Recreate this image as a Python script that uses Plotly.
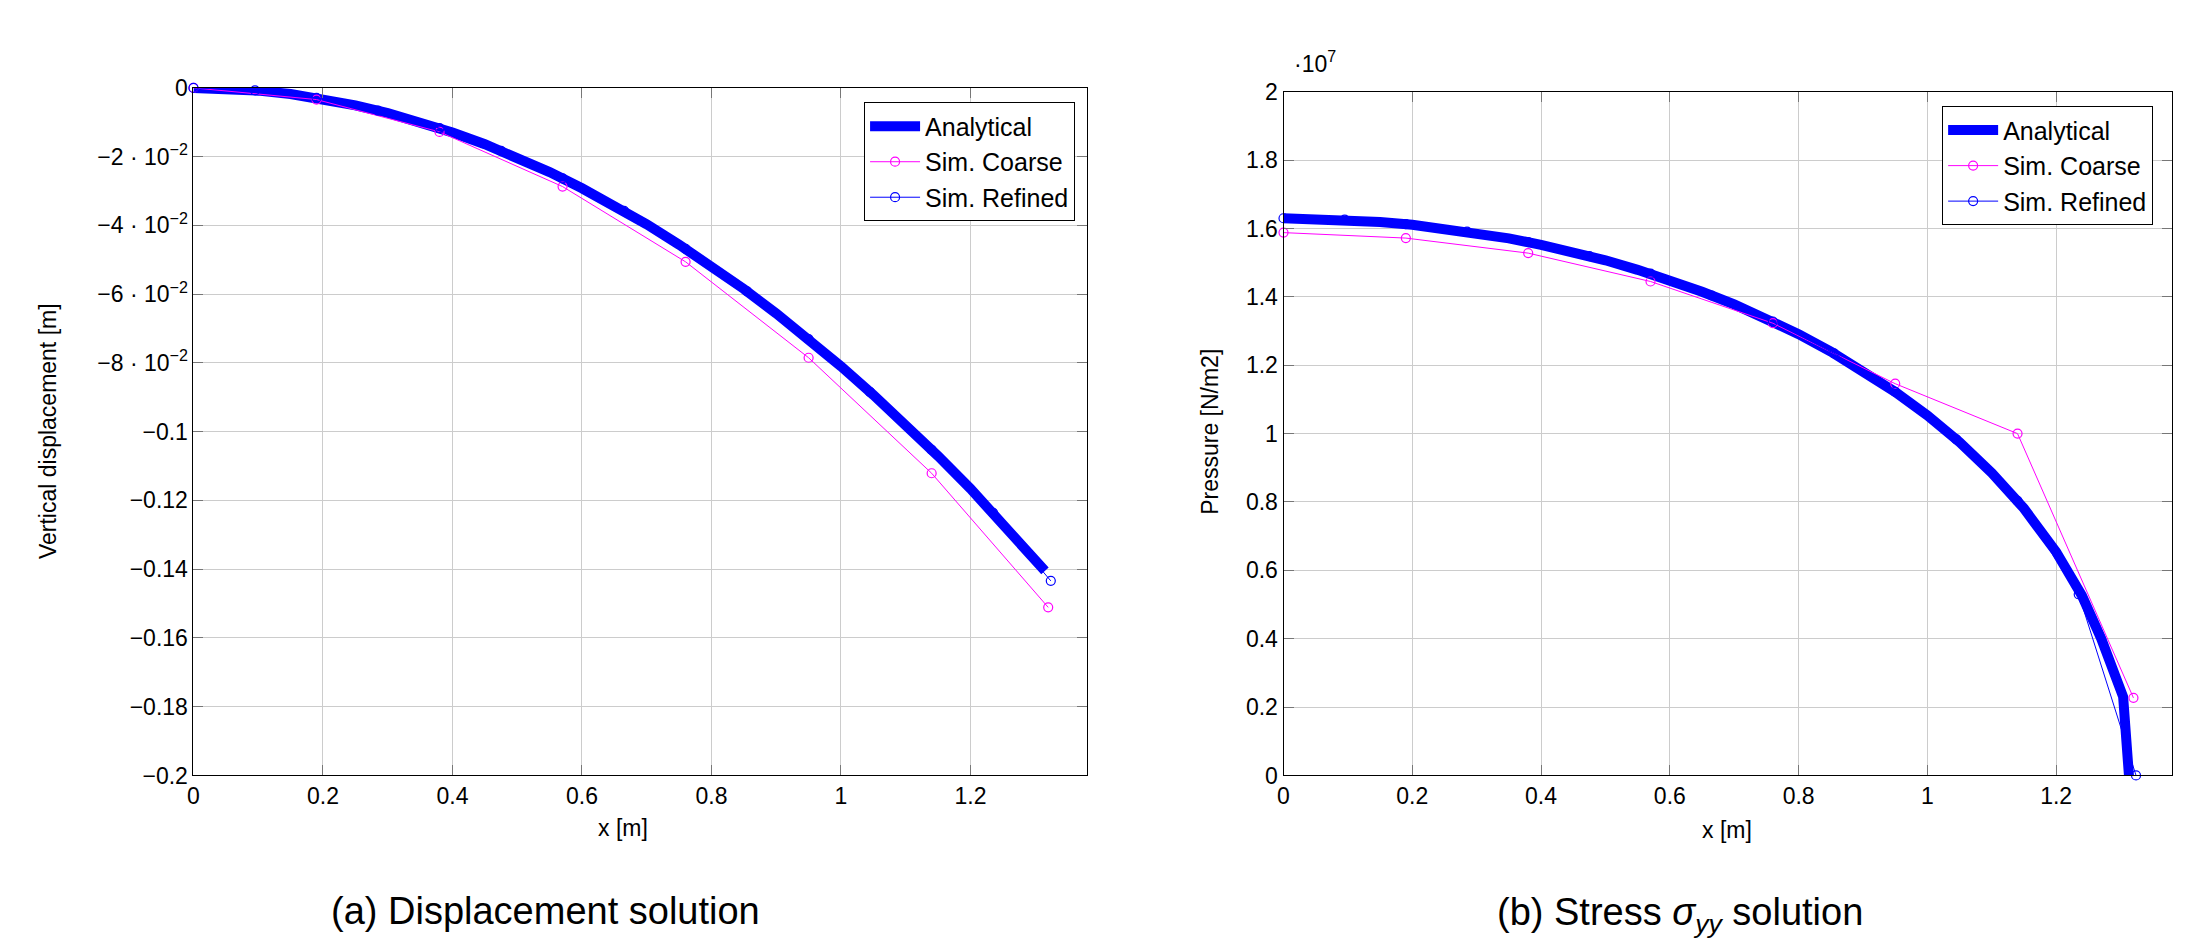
import plotly.graph_objects as go

# --- (a) vertical displacement [m] ---
x_an_disp = [0, 0.05, 0.1, 0.15, 0.2, 0.25, 0.3, 0.35, 0.4, 0.45, 0.5, 0.55, 0.6, 0.65,
             0.7, 0.75, 0.8, 0.85, 0.9, 0.95, 1.0, 1.05, 1.1, 1.15, 1.2, 1.25, 1.3, 1.315]
y_an_disp = [0, -0.0002, -0.0008, -0.0018, -0.0032, -0.0051, -0.0073, -0.0099, -0.0130,
             -0.0164, -0.0203, -0.0245, -0.0292, -0.0342, -0.0397, -0.0456, -0.0518,
             -0.0585, -0.0656, -0.0731, -0.0810, -0.0893, -0.0980, -0.1071, -0.1166,
             -0.1266, -0.1369, -0.1405]

x_coarse = [0, 0.19, 0.38, 0.57, 0.76, 0.95, 1.14, 1.32]
y_coarse_disp = [0, -0.0034, -0.0128, -0.0287, -0.0506, -0.0785, -0.1121, -0.1511]

x_refined = [0, 0.095, 0.19, 0.285, 0.38, 0.475, 0.57, 0.665, 0.76, 0.855, 0.95, 1.045,
             1.14, 1.235, 1.324]
y_refined_disp = [0, -0.0007, -0.0029, -0.0066, -0.0117, -0.0183, -0.0263, -0.0358,
                  -0.0468, -0.0592, -0.0731, -0.0885, -0.1053, -0.1236, -0.1434]

# --- (b) pressure, in units of 1e7 N/m2 ---
x_an_pres = [0, 0.05, 0.1, 0.15, 0.2, 0.25, 0.3, 0.35, 0.4, 0.45, 0.5, 0.55, 0.6, 0.65,
             0.7, 0.75, 0.8, 0.85, 0.9, 0.95, 1.0, 1.05, 1.1, 1.15, 1.2, 1.24, 1.27,
             1.29, 1.304, 1.313]
y_an_pres = [1.630, 1.628, 1.625, 1.619, 1.611, 1.600, 1.587, 1.571, 1.552, 1.531, 1.507,
             1.479, 1.449, 1.415, 1.378, 1.336, 1.291, 1.240, 1.184, 1.122, 1.053, 0.975,
             0.885, 0.781, 0.654, 0.526, 0.400, 0.300, 0.230, 0]

y_coarse_pres = [1.588, 1.572, 1.528, 1.445, 1.323, 1.146, 1.0, 0.227]
y_refined_pres = [1.630, 1.626, 1.613, 1.591, 1.560, 1.519, 1.468, 1.404, 1.328, 1.235,
                  1.122, 0.983, 0.803, 0.53, 0]

disp_tickvals = [0, -0.02, -0.04, -0.06, -0.08, -0.1, -0.12, -0.14, -0.16, -0.18, -0.2]
disp_ticktext = ["0", "−2 · 10<sup>−2</sup>", "−4 · 10<sup>−2</sup>",
                 "−6 · 10<sup>−2</sup>", "−8 · 10<sup>−2</sup>", "−0.1", "−0.12",
                 "−0.14", "−0.16", "−0.18", "−0.2"]

FONT = "Liberation Sans, Arial, sans-serif"

fig = go.Figure()

panels = [("x", "y", "legend", x_an_disp, y_an_disp, y_coarse_disp, y_refined_disp),
          ("x2", "y2", "legend2", x_an_pres, y_an_pres, y_coarse_pres, y_refined_pres)]
for xa, ya, legend, x_an, y_an, yc, yr in panels:
    fig.add_trace(go.Scatter(x=x_an, y=y_an, mode="lines", name="Analytical",
                             line=dict(color="#0000ff", width=10),
                             xaxis=xa, yaxis=ya, legend=legend))
    fig.add_trace(go.Scatter(x=x_coarse, y=yc, mode="lines+markers", name="Sim. Coarse",
                             line=dict(color="#ff00ff", width=1), cliponaxis=False,
                             marker=dict(symbol="circle-open", size=9, color="#ff00ff",
                                         line=dict(width=1.2)),
                             xaxis=xa, yaxis=ya, legend=legend))
    fig.add_trace(go.Scatter(x=x_refined, y=yr, mode="lines+markers", name="Sim. Refined",
                             line=dict(color="#0000ff", width=1), cliponaxis=False,
                             marker=dict(symbol="circle-open", size=9, color="#0000ff",
                                         line=dict(width=1.2)),
                             xaxis=xa, yaxis=ya, legend=legend))

axis_style = dict(showline=True, linecolor="black", linewidth=1, mirror="ticks",
                  ticks="inside", ticklen=10, tickcolor="#777777", tickwidth=1,
                  showgrid=True, gridcolor="#cccccc", gridwidth=1, zeroline=False,
                  tickfont=dict(family=FONT, size=23, color="black"))

legend_style = dict(xanchor="right", yanchor="top", bgcolor="white",
                    bordercolor="black", borderwidth=1,
                    font=dict(family=FONT, size=25), itemwidth=50)

fig.update_layout(
    width=2200, height=946, margin=dict(l=0, r=0, t=0, b=0),
    paper_bgcolor="white", plot_bgcolor="white",
    font=dict(family=FONT, color="black"),
    xaxis=dict(domain=[188 / 2200, 1084 / 2200], range=[0, 1.38], dtick=0.2,
               anchor="y", **axis_style),
    yaxis=dict(domain=[1 - 784 / 946, 1 - 77 / 946], range=[-0.2, 0],
               tickvals=disp_tickvals, ticktext=disp_ticktext, anchor="x", **axis_style),
    xaxis2=dict(domain=[1281 / 2200, 2172 / 2200], range=[0, 1.38], dtick=0.2,
                anchor="y2", **axis_style),
    yaxis2=dict(domain=[1 - 784 / 946, 1 - 81 / 946], range=[0, 2], dtick=0.2,
                anchor="x2", **axis_style),
    legend=dict(x=1072 / 2200, y=1 - 92 / 946, **legend_style),
    legend2=dict(x=2153 / 2200, y=1 - 96 / 946, **legend_style),
)

# axis labels, exponent and sub-captions
notes = [
    (42, 430, "Vertical displacement [m]", 23, -90, "center"),
    (1207, 431, "Pressure [N/m2]", 23, -90, "center"),
    (619, 838, "x [m]", 23, 0, "center"),
    (1726, 840, "x [m]", 23, 0, "center"),
    (1290, 50, "·10<sup>7</sup>", 23, 0, "left"),
    (541, 923, "(a) Displacement solution", 38, 0, "center"),
    (1679, 927, "(b) Stress <i>σ<sub>yy</sub></i> solution", 38, 0, "center"),
]
for px, py, text, size, angle, anchor in notes:
    fig.add_annotation(x=px / 2200, y=1 - py / 946, xref="paper", yref="paper",
                       text=text, showarrow=False, textangle=angle,
                       xanchor=anchor, yanchor="middle",
                       font=dict(family=FONT, size=size, color="black"))

# drop the browser's default page margin so the figure sits at (0, 0)
fig.write_html("out.html", config={"displayModeBar": False},
               post_script="document.body.style.margin='0px';")
